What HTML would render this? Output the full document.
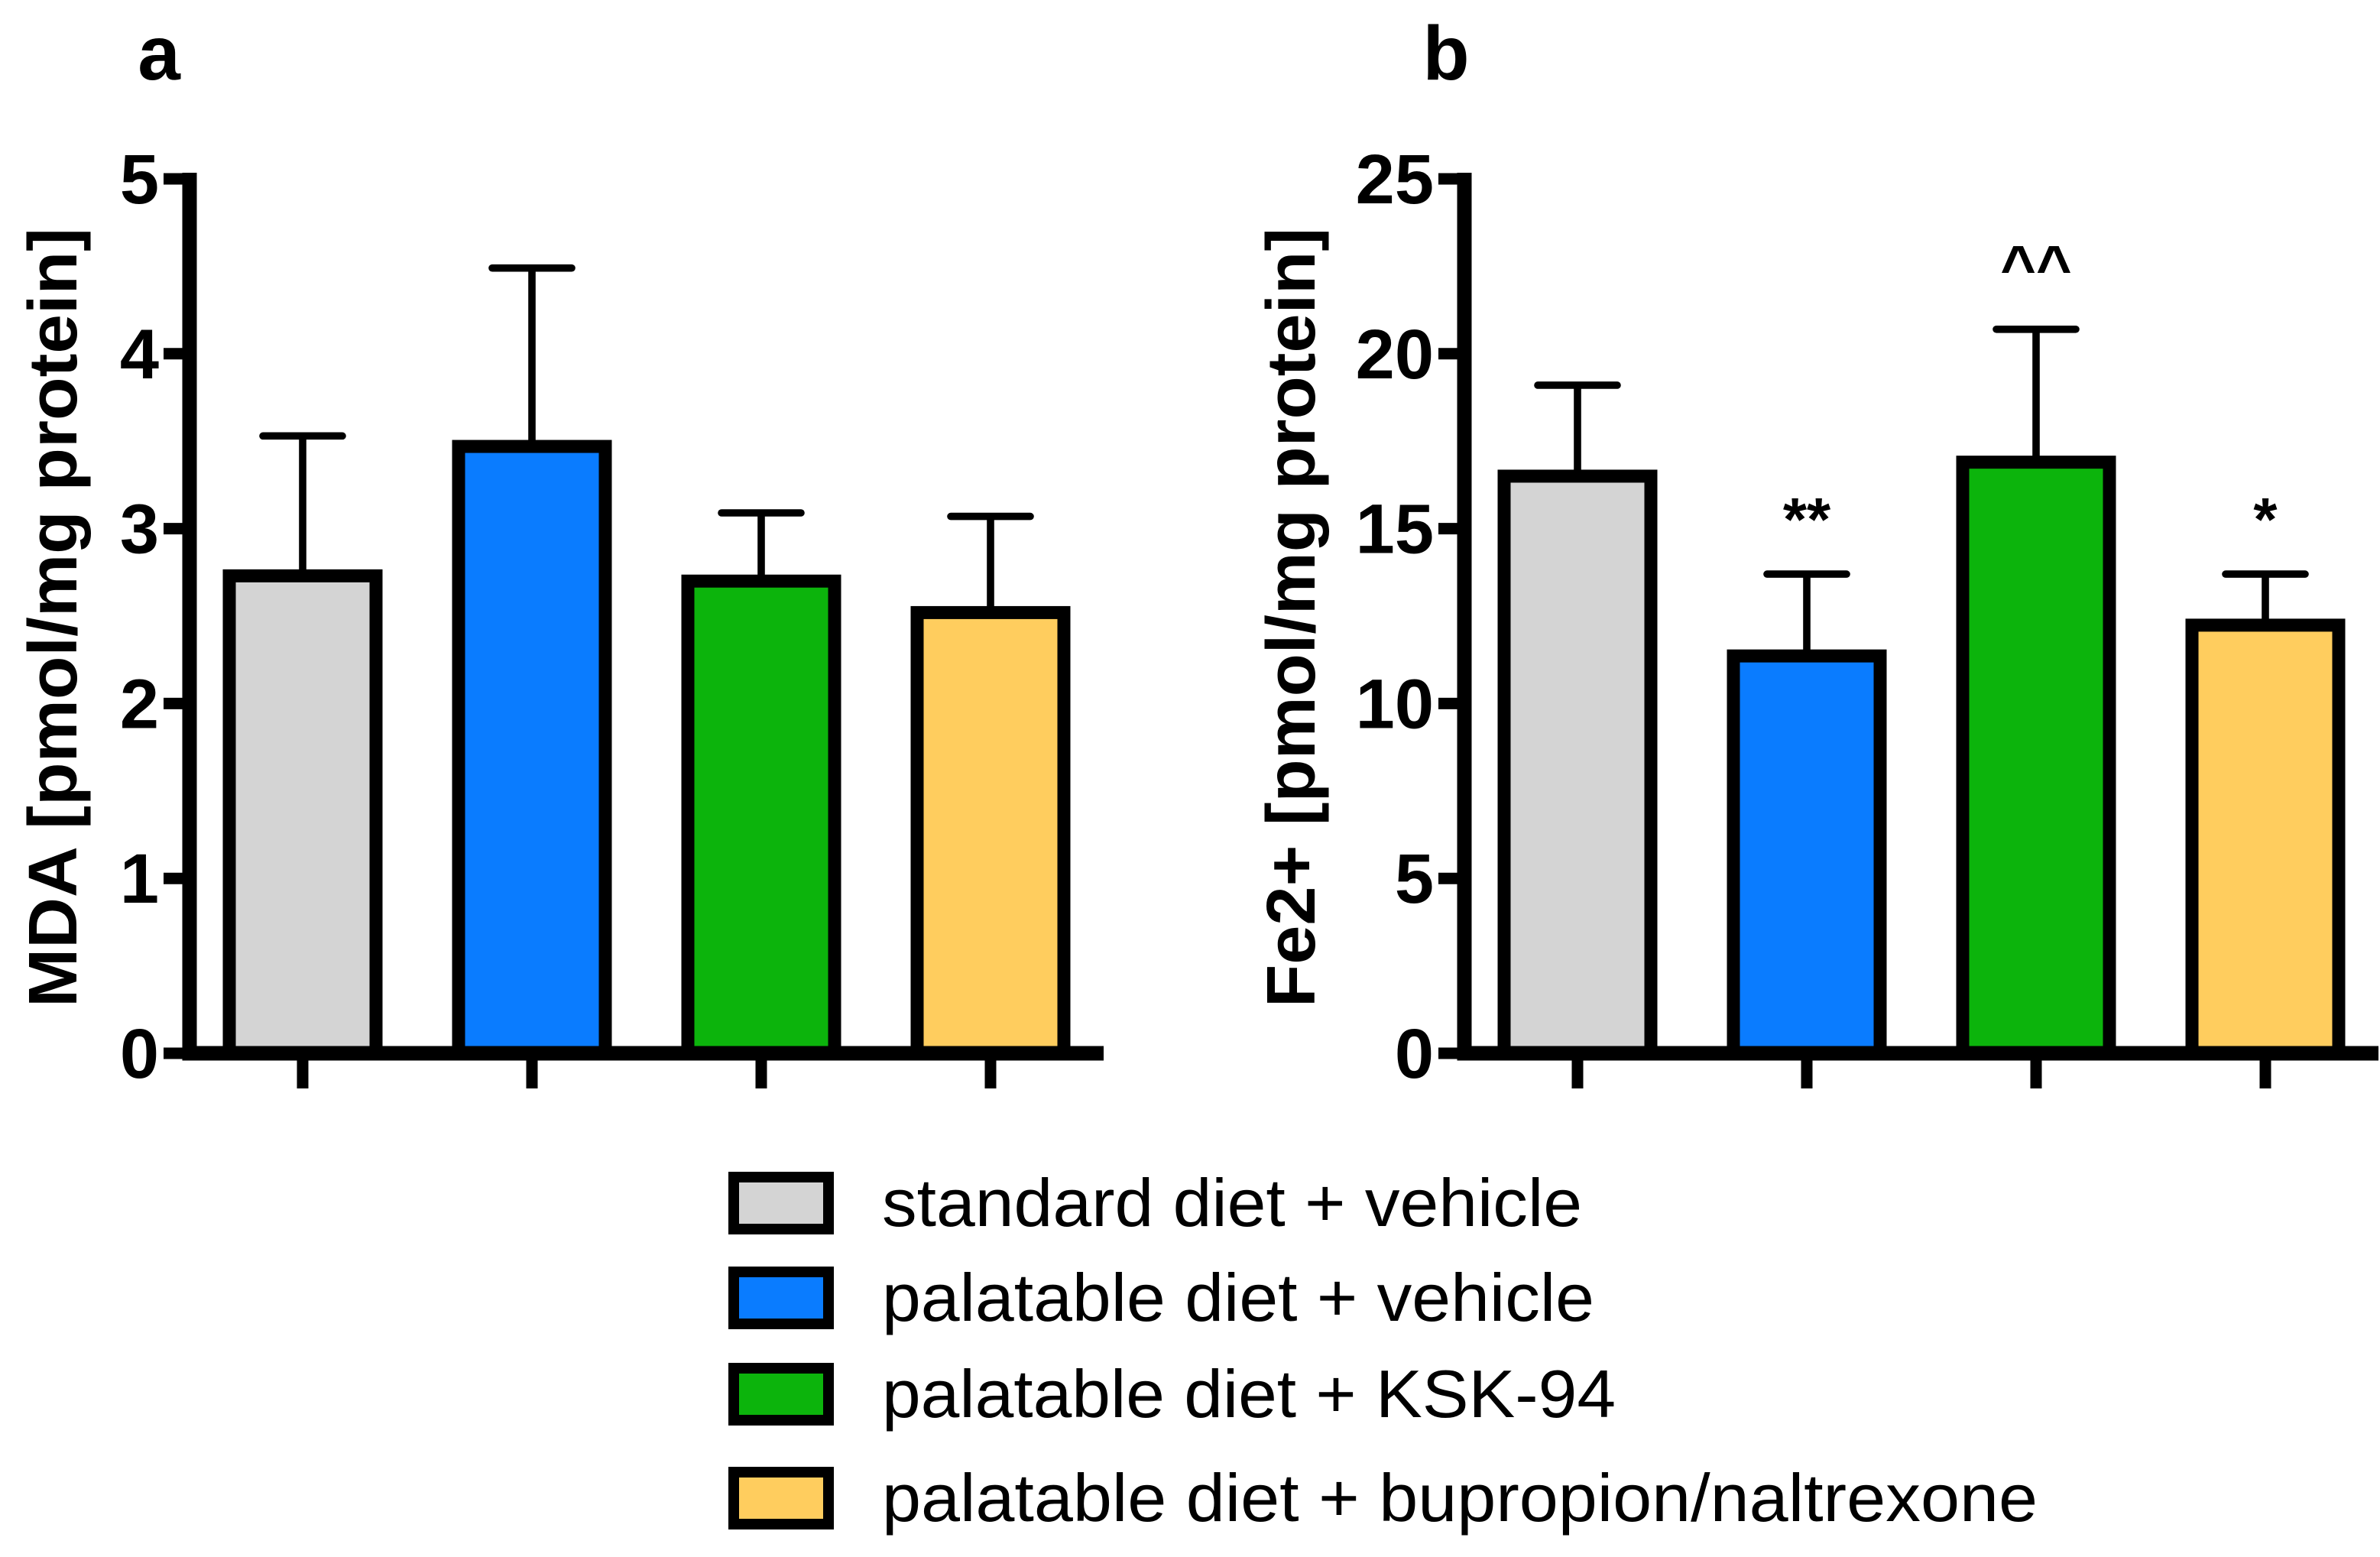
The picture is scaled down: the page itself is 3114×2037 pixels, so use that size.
<!DOCTYPE html>
<html><head><meta charset="utf-8"><style>
html,body{margin:0;padding:0;background:#fff}
svg{display:block}
text{font-family:"Liberation Sans",Arial,sans-serif}
</style></head><body>
<svg id="chart" width="3114" height="2037" viewBox="0 0 1557 1018.5" xmlns="http://www.w3.org/2000/svg">
<g id="root"></g>
</svg>
<script>
const groups = ["standard diet + vehicle","palatable diet + vehicle","palatable diet + KSK-94","palatable diet + bupropion/naltrexone"];
const colors = ["#d4d4d4","#0a7cff","#0cb40c","#ffcd5e"];
const mdaValues = [2.73, 3.47, 2.70, 2.52];
const mdaErrors = [3.53, 4.49, 3.09, 3.07];
const mdaTicks = [0,1,2,3,4,5];
const feValues = [16.5, 11.36, 16.9, 12.24];
const feErrors = [19.1, 13.7, 20.7, 13.7];
const feTicks = [0,5,10,15,20,25];
const feMarks = ["", "**", "^^", "*"];
const legendWidths = [458, 466, 480, 756];

const NS="http://www.w3.org/2000/svg";
const root=document.getElementById('root');
function mk(tag,attrs,parent){const e=document.createElementNS(NS,tag);for(const k in attrs)e.setAttribute(k,attrs[k]);(parent||root).appendChild(e);return e;}

function panel(cfg){
  const g=mk('g',{});
  
  
  const y0=689, y1=117, max=cfg.ticks[cfg.ticks.length-1];
  const yS=v=>y0-(v/max)*(y0-y1);
  const xC=i=>cfg.x0+74+i*150;
  cfg.values.forEach((v,i)=>{
    const c=xC(i);
    const el=mk('line',{x1:c,x2:c,y1:yS(v),y2:yS(cfg.errors[i]),stroke:'#000','stroke-width':4.8},g);
    
    
    const cap=mk('line',{x1:c-26,x2:c+26,y1:yS(cfg.errors[i]),y2:yS(cfg.errors[i]),stroke:'#000','stroke-width':4.8,'stroke-linecap':'round'},g);
    
    
    const r=mk('rect',{x:c-48,y:yS(v),width:96,height:y0-yS(v),fill:colors[i],stroke:'#000','stroke-width':8.5},g);
    
    
    if(cfg.marks && cfg.marks[i]){
      const t=mk('text',{x:c,y:yS(cfg.errors[i])-(cfg.marks[i]==='^^'?27:22),'text-anchor':'middle','font-size':40,'font-weight':'bold'},g);
      t.textContent=cfg.marks[i];
      
      
    }
    const tk=mk('line',{x1:c,x2:c,y1:y0,y2:712,stroke:'#000','stroke-width':7.5},g);
    
    
  });
  const ax=mk('path',{d:`M${cfg.x0} ${y1-4} V${y0} H${cfg.x0+598}`,fill:'none',stroke:'#000','stroke-width':9.5},g);
  
  
  cfg.ticks.forEach(t=>{
    const l=mk('line',{x1:cfg.x0-17,x2:cfg.x0,y1:yS(t),y2:yS(t),stroke:'#000','stroke-width':7.5},g);
    
    
    const tx=mk('text',{x:cfg.x0-20,y:yS(t)+16,'text-anchor':'end','font-size':46,'font-weight':'bold'},g);
    tx.textContent=t;
    
    
  });
  const tt=mk('text',{x:0,y:0,transform:`translate(${cfg.titleX},404) rotate(-90)`,'text-anchor':'middle','font-size':45,'font-weight':'bold',textLength:cfg.titleLen,lengthAdjust:'spacingAndGlyphs'},g);
  tt.textContent=cfg.title;
  
  
  const pl=mk('text',{x:cfg.letterX,y:52,'text-anchor':'middle','font-size':50,'font-weight':'bold'},g);
  pl.textContent=cfg.letter;
  
  
}
panel({name:'panel-a-mda',x0:124,values:mdaValues,errors:mdaErrors,ticks:mdaTicks,title:'MDA [pmol/mg protein]',titleX:50,titleLen:510,letter:'a',letterX:104});
panel({name:'panel-b-fe2',x0:958,values:feValues,errors:feErrors,ticks:feTicks,marks:feMarks,title:'Fe2+ [pmol/mg protein]',titleX:860,titleLen:510,letter:'b',letterX:946});

const lg=mk('g',{});


const legY=[787,849,912,980];
groups.forEach((name,i)=>{
  const r=mk('rect',{x:480,y:legY[i]-17,width:62,height:34,fill:colors[i],stroke:'#000','stroke-width':7},lg);
  
  
  const t=mk('text',{x:577,y:legY[i]+15,'font-size':44,textLength:legendWidths[i],lengthAdjust:'spacingAndGlyphs'},lg);
  t.textContent=name;
  
  
});
</script>
</body></html>
